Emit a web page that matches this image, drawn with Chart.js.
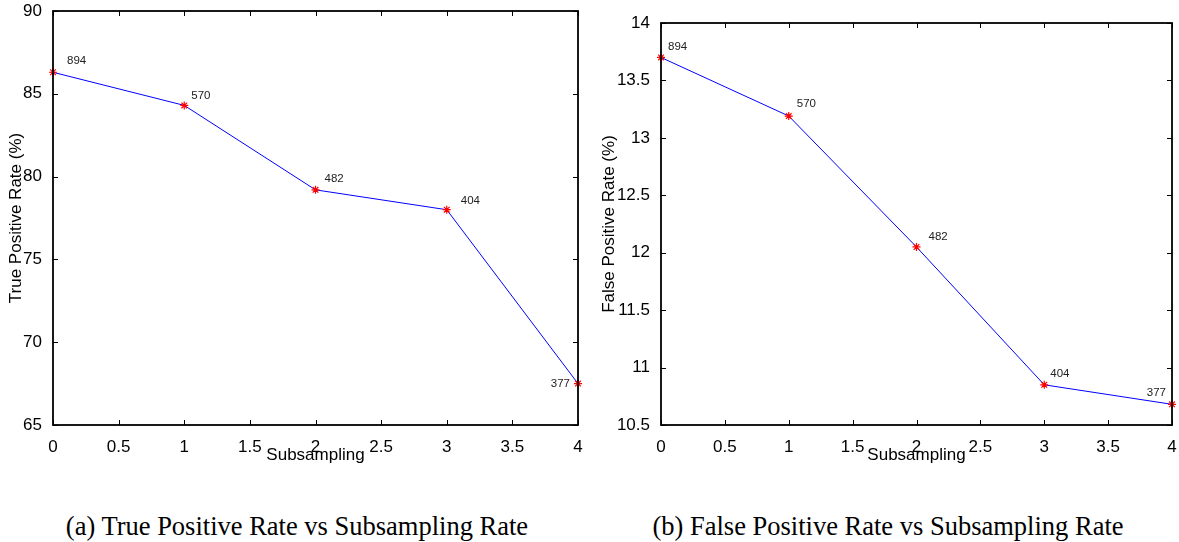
<!DOCTYPE html>
<html>
<head>
<meta charset="utf-8">
<script src="https://cdn.jsdelivr.net/npm/chart.js@4.4.0/dist/chart.umd.min.js"></script>
<style>
  html, body { margin: 0; padding: 0; background: #fff; }
  #wrap { position: relative; width: 1179px; height: 542px; overflow: hidden; }
  canvas { position: absolute; top: 0; }
  .caption {
    position: absolute; top: 511px; width: 560px; text-align: center;
    font-family: "Liberation Serif", "Times New Roman", serif; font-size: 26.5px;
    line-height: 30px; color: #000; white-space: nowrap;
  }
</style>
</head>
<body>
<div id="wrap">
  <canvas id="tprChart" width="590" height="470" style="left:0px"></canvas>
  <canvas id="fprChart" width="589" height="470" style="left:590px"></canvas>
  <div class="caption" style="left:17px">(a) True Positive Rate vs Subsampling Rate</div>
  <div class="caption" style="left:608px">(b) False Positive Rate vs Subsampling Rate</div>
</div>
<script>
// data
const subsampling = [0, 1, 2, 3, 4];
const tprValues = [86.3, 84.3, 79.2, 78.0, 67.5];
const fprValues = [13.70, 13.19, 12.05, 10.85, 10.68];
const pointLabels = ['894', '570', '482', '404', '377'];
const xTicks = [0, 0.5, 1, 1.5, 2, 2.5, 3, 3.5, 4];
const tprTicks = [65, 70, 75, 80, 85, 90];
const fprTicks = [10.5, 11, 11.5, 12, 12.5, 13, 13.5, 14];

Chart.defaults.font.family = '"Liberation Sans", Arial, sans-serif';
Chart.defaults.color = '#000';

// box frame with inward ticks on all four sides (matlab style)
const framePlugin = {
  id: 'frame',
  afterDatasetsDraw(chart) {
    const { ctx, chartArea: a, scales } = chart;
    const len = 5;
    ctx.save();
    ctx.strokeStyle = '#000';
    ctx.lineWidth = 1;
    ctx.beginPath();
    scales.x.ticks.forEach(t => {
      const px = Math.round(scales.x.getPixelForValue(t.value)) + 0.5;
      ctx.moveTo(px, a.bottom); ctx.lineTo(px, a.bottom - len);
      ctx.moveTo(px, a.top); ctx.lineTo(px, a.top + len);
    });
    scales.y.ticks.forEach(t => {
      const py = Math.round(scales.y.getPixelForValue(t.value)) + 0.5;
      ctx.moveTo(a.left, py); ctx.lineTo(a.left + len, py);
      ctx.moveTo(a.right, py); ctx.lineTo(a.right - len, py);
    });
    ctx.stroke();
    ctx.lineWidth = 1.8;
    ctx.strokeRect(a.left, a.top, a.right - a.left, a.bottom - a.top);
    ctx.restore();
  }
};

// text labels next to each point
const pointTextPlugin = {
  id: 'pointText',
  afterDatasetsDraw(chart, args, opts) {
    const { ctx } = chart;
    const meta = chart.getDatasetMeta(0);
    ctx.save();
    ctx.font = '11.5px "Liberation Sans", Arial, sans-serif';
    ctx.fillStyle = '#222';
    ctx.textBaseline = 'middle';
    meta.data.forEach((pt, i) => {
      const o = opts.offsets[i];
      ctx.textAlign = o[2] || 'left';
      ctx.fillText(opts.labels[i], pt.x + o[0], pt.y + o[1]);
    });
    ctx.restore();
  }
};

function makeChart(id, values, yTicks, yTitle, area, offsets, titlePad) {
  const canvas = document.getElementById(id);
  const W = canvas.width, H = canvas.height;
  return new Chart(canvas, {
    type: 'line',
    data: {
      datasets: [{
        data: subsampling.map((x, i) => ({ x, y: values[i] })),
        borderColor: '#0000ff',
        borderWidth: 1,
        tension: 0,
        fill: false,
        pointStyle: 'star',
        pointRadius: 4,
        pointBorderColor: '#ff0000',
        pointBackgroundColor: '#ff0000',
        pointBorderWidth: 1.2,
        clip: false
      }]
    },
    options: {
      responsive: false,
      devicePixelRatio: 1,
      animation: false,
      events: [],
      layout: { padding: { left: 0, top: area.top, right: W - area.right, bottom: 0 } },
      plugins: {
        legend: { display: false },
        tooltip: { enabled: false },
        pointText: { labels: pointLabels, offsets }
      },
      scales: {
        x: {
          type: 'linear',
          min: 0, max: 4,
          afterBuildTicks: s => { s.ticks = xTicks.map(v => ({ value: v })); },
          afterFit: s => {
            s.height = H - area.bottom;
            s.paddingLeft = 0; s.paddingRight = 0;
          },
          grid: { display: false },
          border: { display: false },
          ticks: { font: { size: 17 }, padding: 4, maxRotation: 0, callback: v => String(v) },
          title: { display: true, text: 'Subsampling', font: { size: 17 }, padding: { top: 0, bottom: 4 } }
        },
        y: {
          type: 'linear',
          min: yTicks[0], max: yTicks[yTicks.length - 1],
          afterBuildTicks: s => { s.ticks = yTicks.map(v => ({ value: v })); },
          afterFit: s => {
            s.width = area.left;
            s.paddingTop = 0; s.paddingBottom = 0;
          },
          grid: { display: false },
          border: { display: false },
          ticks: { font: { size: 17 }, padding: 3, callback: v => String(v) },
          title: { display: true, text: yTitle, font: { size: 17 }, padding: { top: titlePad, bottom: 0 } }
        }
      }
    },
    plugins: [framePlugin, pointTextPlugin]
  });
}

makeChart('tprChart', tprValues, tprTicks, 'True Positive Rate (%)',
  { left: 53, right: 578, top: 11, bottom: 425 },
  [[14, -11], [7, -10], [9, -11], [14, -9], [-8, 0, 'right']], 6);

makeChart('fprChart', fprValues, fprTicks, 'False Positive Rate (%)',
  { left: 71, right: 582, top: 23, bottom: 425 },
  [[7, -11], [8, -12], [12, -10], [6, -11], [-6, -11, 'right']], 9);
</script>
</body>
</html>
